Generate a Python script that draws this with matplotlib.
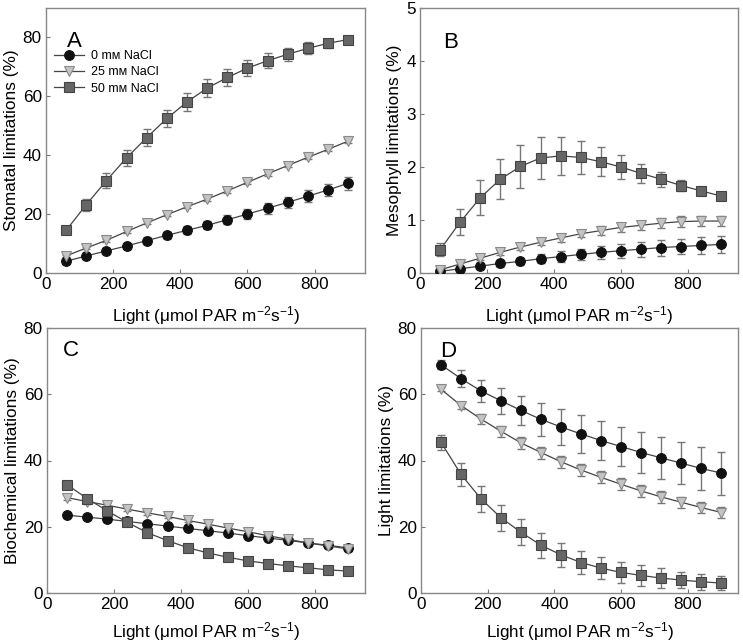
import matplotlib
matplotlib.use("Agg")
import matplotlib.pyplot as plt
import numpy as np

plt.rcParams['font.family'] = ['Liberation Sans', 'DejaVu Sans']
plt.rcParams['mathtext.fontset'] = 'custom'
plt.rcParams['mathtext.rm'] = 'Liberation Sans'
plt.rcParams['mathtext.it'] = 'Liberation Sans:italic'
plt.rcParams['mathtext.default'] = 'rm'

light = [60, 120, 180, 240, 300, 360, 420, 480, 540, 600, 660, 720, 780, 840, 900]
series_labels = ["0 m\u1d0d NaCl", "25 m\u1d0d NaCl", "50 m\u1d0d NaCl"]

# Panel A: stomatal limitations
stom_0 = [4.0, 5.8, 7.5, 9.2, 11.0, 12.8, 14.5, 16.2, 18.1, 20.0, 22.0, 24.0, 26.1, 28.2, 30.5]
stom_0_err = [0.8, 0.9, 0.9, 1.0, 1.1, 1.2, 1.3, 1.4, 1.5, 1.6, 1.8, 1.9, 2.0, 2.1, 2.2]
stom_25 = [5.8, 8.5, 11.1, 14.1, 17.0, 19.8, 22.5, 25.1, 27.9, 30.8, 33.7, 36.5, 39.3, 42.0, 44.8]
stom_25_err = [0.4, 0.5, 0.5, 0.5, 0.5, 0.5, 0.5, 0.6, 0.6, 0.6, 0.6, 0.6, 0.6, 0.6, 0.6]
stom_50 = [14.5, 23.2, 31.4, 39.1, 46.0, 52.5, 58.1, 62.8, 66.4, 69.6, 72.1, 74.3, 76.3, 78.0, 79.3]
stom_50_err = [1.2, 2.0, 2.5, 2.8, 2.9, 3.0, 3.2, 3.0, 3.0, 2.8, 2.6, 2.2, 2.0, 1.6, 1.2]

# Panel B: mesophyll limitations
meso_0 = [0.03, 0.08, 0.13, 0.18, 0.22, 0.27, 0.31, 0.35, 0.39, 0.42, 0.45, 0.48, 0.50, 0.52, 0.54]
meso_0_err = [0.02, 0.04, 0.05, 0.06, 0.07, 0.08, 0.10, 0.11, 0.12, 0.13, 0.14, 0.15, 0.15, 0.16, 0.16]
meso_25 = [0.06, 0.17, 0.28, 0.39, 0.49, 0.58, 0.66, 0.74, 0.80, 0.86, 0.90, 0.94, 0.97, 0.98, 0.98]
meso_25_err = [0.02, 0.03, 0.04, 0.05, 0.05, 0.06, 0.07, 0.07, 0.08, 0.09, 0.09, 0.10, 0.10, 0.09, 0.09]
meso_50 = [0.44, 0.96, 1.42, 1.77, 2.01, 2.17, 2.21, 2.18, 2.10, 2.00, 1.88, 1.77, 1.65, 1.55, 1.45]
meso_50_err = [0.12, 0.24, 0.33, 0.38, 0.40, 0.40, 0.36, 0.31, 0.27, 0.22, 0.18, 0.14, 0.10, 0.06, 0.04]

# Panel C: biochemical limitations
bio_0 = [23.5, 22.9, 22.3, 21.6, 20.9, 20.2, 19.5, 18.8, 18.1, 17.3, 16.6, 15.9, 15.1, 14.4, 13.6]
bio_0_err = [0.6, 0.6, 0.6, 0.6, 0.6, 0.6, 0.6, 0.6, 0.6, 0.6, 0.6, 0.6, 0.6, 0.6, 0.6]
bio_25 = [28.8, 27.6, 26.5, 25.3, 24.2, 23.1, 21.9, 20.8, 19.6, 18.5, 17.3, 16.2, 15.1, 14.2, 13.3]
bio_25_err = [0.7, 0.7, 0.7, 0.6, 0.6, 0.6, 0.6, 0.6, 0.6, 0.6, 0.6, 0.6, 0.6, 0.6, 0.6]
bio_50 = [32.7, 28.5, 24.8, 21.3, 18.2, 15.8, 13.7, 12.1, 10.8, 9.7, 8.9, 8.2, 7.6, 7.0, 6.6]
bio_50_err = [0.8, 1.0, 1.2, 1.2, 1.2, 1.2, 1.1, 0.9, 0.8, 0.7, 0.6, 0.6, 0.5, 0.5, 0.5]

# Panel D: light limitations
lig_0 = [68.9, 64.7, 61.0, 58.0, 55.1, 52.4, 50.1, 48.0, 46.0, 44.2, 42.4, 40.8, 39.2, 37.6, 36.2]
lig_0_err = [1.3, 2.5, 3.4, 4.0, 4.5, 5.0, 5.3, 5.6, 5.9, 6.0, 6.2, 6.3, 6.4, 6.5, 6.5]
lig_25 = [61.5, 56.6, 52.5, 48.8, 45.3, 42.4, 39.6, 37.1, 34.9, 32.8, 30.8, 29.0, 27.4, 25.8, 24.3]
lig_25_err = [0.6, 1.0, 1.4, 1.6, 1.7, 1.8, 1.8, 1.8, 1.8, 1.8, 1.8, 1.7, 1.7, 1.7, 1.7]
lig_50 = [45.5, 35.8, 28.4, 22.7, 18.3, 14.4, 11.5, 9.2, 7.5, 6.2, 5.3, 4.5, 3.9, 3.4, 3.0]
lig_50_err = [2.3, 3.5, 4.0, 4.0, 3.9, 3.8, 3.6, 3.5, 3.3, 3.3, 3.1, 2.9, 2.5, 2.4, 2.0]

styles = [
    dict(marker='o', mfc='#111111', mec='#111111'),
    dict(marker='v', mfc='#c4c4c4', mec='#8a8a8a'),
    dict(marker='s', mfc='#666666', mec='#444444'),
]

W, H = 743, 644
fig = plt.figure(figsize=(W / 100, H / 100), dpi=100)

def px_axes(l, r, t, b):
    return fig.add_axes([l / W, 1 - b / H, (r - l) / W, (b - t) / H])

panels = [
    dict(rect=(46, 365, 8, 273), ylim=(0, 90), yticks=[0, 20, 40, 60, 80],
         ylabel='Stomatal limitations (%)', letter='A', lpos=(0.065, 0.915), lp=8.5,
         data=[(stom_0, stom_0_err), (stom_25, stom_25_err), (stom_50, stom_50_err)]),
    dict(rect=(420, 738, 8, 273), ylim=(0, 5), yticks=[0, 1, 2, 3, 4, 5],
         ylabel='Mesophyll limitations (%)', letter='B', lpos=(0.072, 0.91), lp=8.5,
         data=[(meso_0, meso_0_err), (meso_25, meso_25_err), (meso_50, meso_50_err)]),
    dict(rect=(47, 365, 328, 593), ylim=(0, 80), yticks=[0, 20, 40, 60, 80],
         ylabel='Biochemical limitations (%)', letter='C', lpos=(0.05, 0.955), lp=6,
         data=[(bio_0, bio_0_err), (bio_25, bio_25_err), (bio_50, bio_50_err)]),
    dict(rect=(421, 738, 328, 593), ylim=(0, 80), yticks=[0, 20, 40, 60, 80],
         ylabel='Light limitations (%)', letter='D', lpos=(0.06, 0.95), lp=6,
         data=[(lig_0, lig_0_err), (lig_25, lig_25_err), (lig_50, lig_50_err)]),
]

for i, p in enumerate(panels):
    ax = px_axes(*p['rect'])
    for (vals, errs), st, lab in zip(p['data'], styles, series_labels):
        ax.errorbar(light, vals, yerr=errs, color='#777777', elinewidth=1.0,
                    capsize=3, capthick=1.0, fmt='none', zorder=2)
        ax.plot(light, vals, color='#444444', lw=0.9, marker=st['marker'],
                markersize=7, markerfacecolor=st['mfc'], markeredgecolor=st['mec'],
                markeredgewidth=0.8, label=lab, zorder=3)
    ax.set_xlim(0, 950)
    ax.set_ylim(*p['ylim'])
    ax.set_xticks([0, 200, 400, 600, 800])
    ax.set_yticks(p['yticks'])
    ax.tick_params(direction='in', length=3, width=0.8, colors='#777777',
                   labelcolor='black', labelsize=12.3, pad=3)
    for s in ax.spines.values():
        s.set_color('#888888')
        s.set_linewidth(1.0)
    ax.set_xlabel('Light (\u03bcmol PAR m$^{\u22122}$s$^{\u22121}$)', fontsize=12.3,
                  labelpad=p['lp'])
    ax.set_ylabel(p['ylabel'], fontsize=12.4, labelpad=3)
    ax.text(p['lpos'][0], p['lpos'][1], p['letter'], transform=ax.transAxes,
            fontsize=16, ha='left', va='top')
    if i == 0:
        ax.legend(loc='upper left', bbox_to_anchor=(0.0, 0.87), frameon=False,
                  fontsize=9, handlelength=2.4, handletextpad=0.6, labelspacing=0.35,
                  borderaxespad=0.2)

fig.savefig('out.png', dpi=100)
